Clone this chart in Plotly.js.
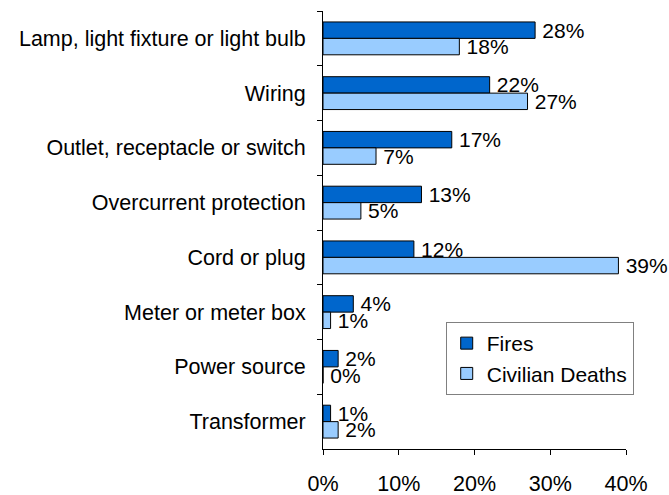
<!DOCTYPE html>
<html>
<head>
<meta charset="utf-8">
<script src="https://cdn.plot.ly/plotly-3.0.1.min.js"></script>
<style>html,body{margin:0;padding:0;background:#fff}#chart{width:669px;height:495px}</style>
</head>
<body>
<div id="chart"></div>
<script>
const categories = ["Lamp, light fixture or light bulb", "Wiring", "Outlet, receptacle or switch", "Overcurrent protection", "Cord or plug", "Meter or meter box", "Power source", "Transformer"];
const fires = [28, 22, 17, 13, 12, 4, 2, 1];
const deaths = [18, 27, 7, 5, 39, 1, 0, 2];
const xTicks = [0, 10, 20, 30, 40];

const fam = "Liberation Sans, Arial, sans-serif";
const font = {family: fam, size: 21.5, color: "#000"};
const labelFont = {family: fam, size: 21, color: "#000"};

const traces = [
  {type: "bar", orientation: "h", name: "Fires", y: categories, x: fires,
   text: fires.map(v => "\u2009" + v + "%"), textposition: "outside", cliponaxis: false,
   constraintext: "none", textfont: labelFont,
   marker: {color: "#0066CC", line: {color: "#000", width: 1}}},
  {type: "bar", orientation: "h", name: "Civilian Deaths", y: categories, x: deaths,
   text: deaths.map(v => "\u2009" + v + "%"), textposition: "outside", cliponaxis: false,
   constraintext: "none", textfont: labelFont,
   marker: {color: "#99CCFF", line: {color: "#000", width: 1}}}
];

const layout = {
  width: 669, height: 495,
  margin: {l: 323, r: 43, t: 11, b: 46, pad: 0},
  paper_bgcolor: "#fff", plot_bgcolor: "#fff",
  font: font,
  barmode: "group", bargap: 0.4, bargroupgap: 0,
  showlegend: true,
  legend: {x: 0.405, y: 0.29, xanchor: "left", yanchor: "top",
           bgcolor: "#fff", bordercolor: "#808080", borderwidth: 1,
           font: labelFont, traceorder: "normal", itemwidth: 30},
  xaxis: {range: [0, 40], tickvals: xTicks, ticktext: xTicks.map(v => v + "%"),
          showgrid: false, zeroline: false, showline: true, linecolor: "#000", linewidth: 1,
          ticks: "outside", ticklen: 5, tickcolor: "#000", tickfont: font, ticklabelstandoff: 10},
  yaxis: {autorange: "reversed", showgrid: false, zeroline: false, showline: true,
          linecolor: "#000", linewidth: 1, ticks: "outside", ticklen: 5, tickcolor: "#000",
          tickson: "boundaries", tickfont: font, ticksuffix: "  "}
};

Plotly.newPlot("chart", traces, layout, {displayModeBar: false});
</script>
</body>
</html>
